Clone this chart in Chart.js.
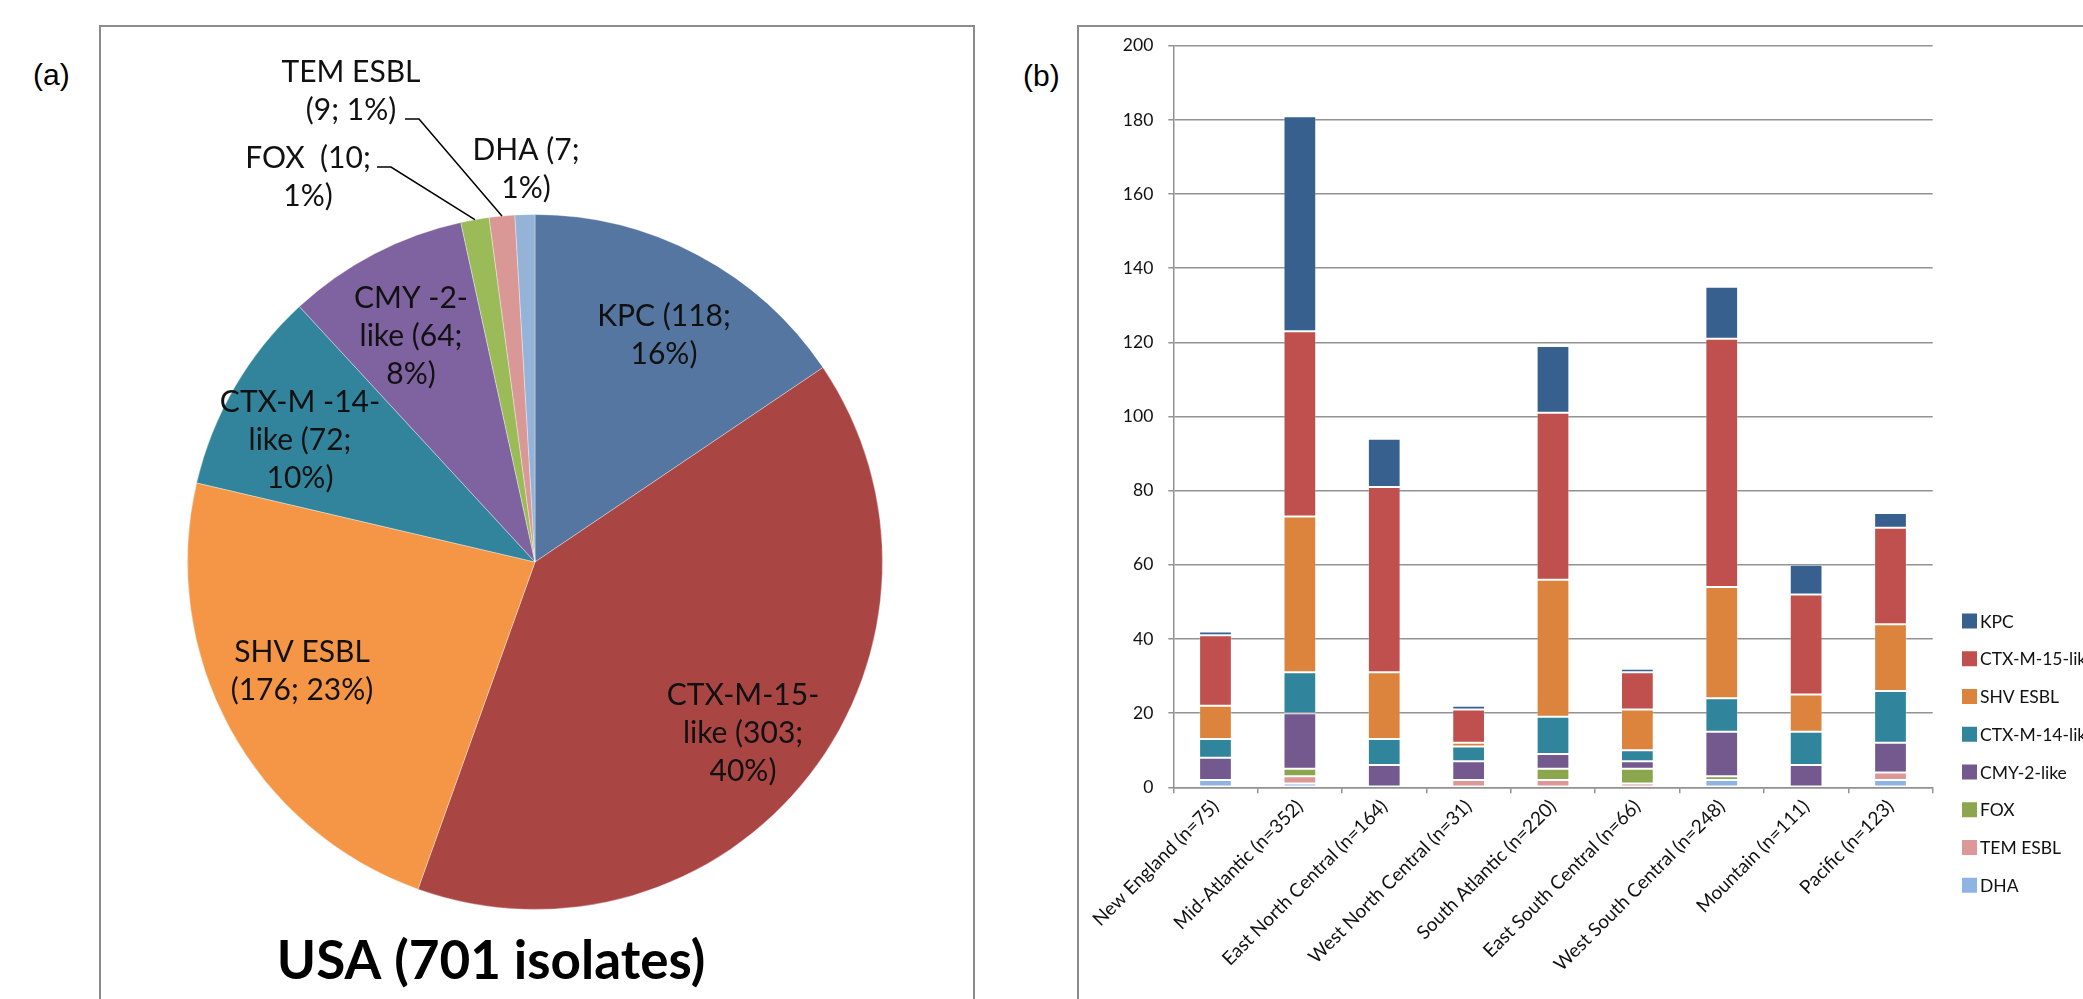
<!DOCTYPE html>
<html>
<head>
<meta charset="utf-8">
<script src="https://cdn.jsdelivr.net/npm/chart.js@4/dist/chart.umd.min.js"></script>
<style>
  html, body { margin: 0; padding: 0; background: #fff; width: 2083px; height: 999px; overflow: hidden; }
  canvas { position: absolute; left: 0; top: 0; }
  .frame { position: absolute; border: 2px solid #8c8c8c; box-sizing: border-box; }
  .tag { position: absolute; font-family: "Liberation Sans", Arial, sans-serif; font-size: 30px; line-height: 34px; color: #000; }
</style>
</head>
<body>
<div class="frame" style="left:99px;top:25px;width:876px;height:1010px"></div>
<div class="frame" style="left:1077px;top:25px;width:1030px;height:1010px"></div>
<div class="tag" style="left:33px;top:58px">(a)</div>
<div class="tag" style="left:1023px;top:59px">(b)</div>
<canvas id="bar" width="2083" height="999" style="width:2083px;height:999px"></canvas>
<canvas id="pie" width="2083" height="999" style="width:2083px;height:999px"></canvas>
<script>
// ---- (a) USA totals per enzyme group ----
const genes = ['KPC', 'CTX-M-15-like', 'SHV ESBL', 'CTX-M-14-like', 'CMY-2-like', 'FOX', 'TEM ESBL', 'DHA'];
const usaCounts = [118, 303, 176, 72, 64, 10, 9, 7];
const pieLabelText = [
  ['KPC (118;', '16%)'],
  ['CTX-M-15-', 'like (303;', '40%)'],
  ['SHV ESBL', '(176; 23%)'],
  ['CTX-M -14-', 'like (72;', '10%)'],
  ['CMY -2-', 'like (64;', '8%)'],
  ['FOX  (10;', '1%)'],
  ['TEM ESBL', '(9; 1%)'],
  ['DHA (7;', '1%)']
];
const pieTitle = 'USA (701 isolates)';

// ---- (b) counts per census division ----
const regions = ['New England (n=75)', 'Mid-Atlantic (n=352)', 'East North Central (n=164)',
  'West North Central (n=31)', 'South Atlantic (n=220)', 'East South Central (n=66)',
  'West South Central (n=248)', 'Mountain (n=111)', 'Pacific (n=123)'];
const kpc    = [1, 58, 13, 1, 18, 1, 14, 8, 4];
const ctxm15 = [19, 50, 50, 9, 45, 10, 67, 27, 26];
const shv    = [9, 42, 18, 1, 37, 11, 30, 10, 18];
const ctxm14 = [5, 11, 7, 4, 10, 3, 9, 9, 14];
const cmy2   = [6, 15, 6, 5, 4, 2, 12, 6, 8];
const fox    = [0, 2, 0, 0, 3, 4, 1, 0, 0];
const tem    = [0, 2, 0, 2, 2, 1, 0, 0, 2];
const dha    = [2, 1, 0, 0, 0, 0, 2, 0, 2];
const yTicks = [0, 20, 40, 60, 80, 100, 120, 140, 160, 180, 200];

// ---- styles ----
const pieColors = ['#5476A0', '#A94644', '#F59647', '#31849B', '#7F62A0', '#9BBB59', '#D99795', '#95B3D7'];
const barColors = ['#37608F', '#C0504D', '#DC843D', '#30859C', '#73598E', '#8BA64D', '#DB9897', '#8EB4E3'];
const FONT = 'Lato, "Open Sans", sans-serif';
const GRID = '#929292';

// label anchor points (centre of first line) and line pitch for the pie
const pieLabelPos = [[664, 316], [743, 695], [302, 652], [300, 402], [411, 298], [308, 158], [351, 72], [526, 150]];
const PIE_LINE = 38.3;
// leader lines for the two thin slices: [label-side start, elbow]
const leaders = { 5: [[377, 167], [391, 167]], 6: [[405, 119], [419, 119]] };

const pieText = {
  id: 'pieText',
  afterDatasetsDraw(chart) {
    const ctx = chart.ctx;
    const meta = chart.getDatasetMeta(0);
    ctx.save();
    ctx.fillStyle = '#111';
    ctx.font = '30px ' + FONT;
    ctx.textAlign = 'center';
    ctx.textBaseline = 'middle';
    pieLabelText.forEach((lines, i) => {
      const [x, y] = pieLabelPos[i];
      lines.forEach((t, k) => ctx.fillText(t, x, y + k * PIE_LINE));
    });
    ctx.strokeStyle = '#000';
    ctx.lineWidth = 1.5;
    Object.keys(leaders).forEach(key => {
      const arc = meta.data[+key];
      const mid = (arc.startAngle + arc.endAngle) / 2;
      const ex = arc.x + Math.cos(mid) * arc.outerRadius;
      const ey = arc.y + Math.sin(mid) * arc.outerRadius;
      const [a, b] = leaders[key];
      ctx.beginPath();
      ctx.moveTo(a[0], a[1]);
      ctx.lineTo(b[0], b[1]);
      ctx.lineTo(ex, ey);
      ctx.stroke();
    });
    ctx.font = 'bold 53px ' + FONT;
    ctx.textBaseline = 'alphabetic';
    ctx.fillStyle = '#000';
    ctx.fillText(pieTitle, 491, 979);
    ctx.restore();
  }
};

new Chart(document.getElementById('pie'), {
  type: 'pie',
  data: {
    labels: genes,
    datasets: [{ data: usaCounts, backgroundColor: pieColors, borderWidth: 1, borderColor: 'rgba(255,255,255,0.35)' }]
  },
  options: {
    responsive: false,
    animation: false,
    layout: { padding: { left: 187, top: 214, right: 2083 - 883, bottom: 999 - 910 } },
    plugins: { legend: { display: false }, tooltip: { enabled: false } }
  },
  plugins: [pieText]
});

// stacked from the bottom up
const stackOrder = [
  ['DHA', dha, 7], ['TEM ESBL', tem, 6], ['FOX', fox, 5], ['CMY-2-like', cmy2, 4],
  ['CTX-M-14-like', ctxm14, 3], ['SHV ESBL', shv, 2], ['CTX-M-15-like', ctxm15, 1], ['KPC', kpc, 0]
];

const sideLegend = {
  id: 'sideLegend',
  afterDraw(chart) {
    const ctx = chart.ctx;
    ctx.save();
    ctx.font = '17.5px ' + FONT;
    ctx.textBaseline = 'middle';
    ctx.textAlign = 'left';
    const ds = chart.data.datasets.slice().reverse();
    ds.forEach((d, i) => {
      const cy = 621 + i * 37.75;
      ctx.fillStyle = d.backgroundColor;
      ctx.fillRect(1962, cy - 7.5, 15, 15);
      ctx.fillStyle = '#111';
      ctx.fillText(d.label, 1980, cy + 1);
    });
    ctx.restore();
  }
};

const Y_W = 60, X_H = 999 - 787.3;
new Chart(document.getElementById('bar'), {
  type: 'bar',
  data: {
    labels: regions,
    datasets: stackOrder.map(([name, vals, ci]) => ({
      label: name,
      data: vals,
      backgroundColor: barColors[ci],
      borderColor: 'rgba(255,255,255,0.3)',
      borderWidth: 1,
      borderSkipped: false,
      categoryPercentage: 1,
      barPercentage: 0.388
    }))
  },
  options: {
    responsive: false,
    animation: false,
    layout: { padding: { left: 1173.3 - Y_W, top: 45.7, right: 2083 - 1932.7, bottom: 0 } },
    plugins: { legend: { display: false }, tooltip: { enabled: false } },
    scales: {
      x: {
        stacked: true,
        grid: { drawOnChartArea: false, drawTicks: true, tickLength: 6, color: GRID, lineWidth: 1.5, offset: true },
        border: { display: true, color: GRID, width: 1.5 },
        ticks: { autoSkip: false, minRotation: 45, maxRotation: 45, padding: 2, color: '#111', font: { family: FONT, size: 19 } },
        afterFit(s) { s.height = X_H; s.paddingLeft = 0; s.paddingRight = 0; }
      },
      y: {
        stacked: true,
        min: yTicks[0],
        max: yTicks[yTicks.length - 1],
        afterBuildTicks(s) { s.ticks = yTicks.map(v => ({ value: v })); },
        grid: { color: GRID, lineWidth: 1.5, tickLength: 5 },
        border: { display: true, color: GRID, width: 1.5 },
        ticks: { padding: 15, color: '#111', font: { family: FONT, size: 17.5 } },
        afterFit(s) { s.width = Y_W; }
      }
    }
  },
  plugins: [sideLegend]
});
</script>
</body>
</html>
